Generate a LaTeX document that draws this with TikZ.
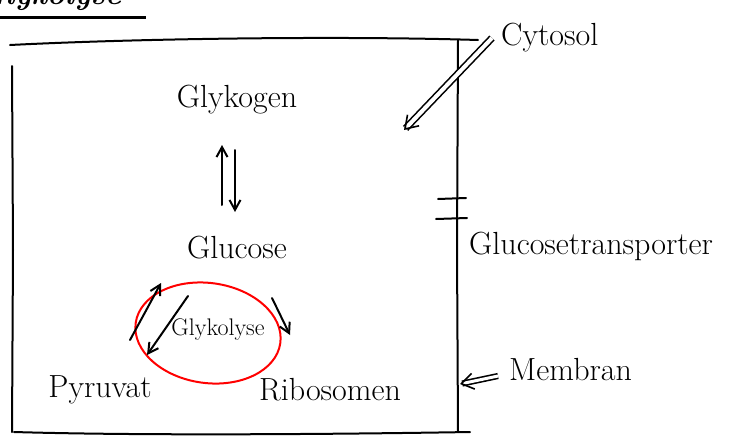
\documentclass[tikz,border=0pt]{standalone}
\usetikzlibrary{arrows.meta}
\begin{document}
\begin{tikzpicture}[x=1pt,y=-1pt,
  hand/.style={line width=2pt,line cap=round,line join=round,black},
  lbl/.style={font=\fontsize{32}{36}\selectfont,inner sep=1pt},
  arr/.style={hand,-{Straight Barb[length=10pt,width=11pt]}},
  dbl/.style={double distance=4pt,line width=1.6pt,-{Straight Barb[length=12pt,width=16pt]}}]
\useasboundingbox (0,0) rectangle (749,442);
% cut-off heading
\begin{scope}
\clip (0,0) rectangle (200,15);
\node[font=\fontsize{30}{34}\selectfont\bfseries\itshape,anchor=base west] (head) at (-25,4) {Glykolyse};
\end{scope}
\draw[line width=3pt] (0,17) -- (146,17);
% cell box
\draw[hand] (10,45) .. controls (150,38) and (350,36) .. (478,40);
\draw[hand] (12,66) -- (13,250) -- (12,432);
\draw[hand] (458,40) -- (457,250) -- (458,432);
\draw[hand] (14,432) .. controls (150,436) and (350,434) .. (470,432);
% transporter marks
\draw[hand] (438,199) -- (466,198);
\draw[hand] (436,219) -- (467,218);
% nodes
\node[lbl] (glykogen) at (237,100) {Glykogen};
\node[lbl] (glucose) at (237,248) {Glucose};
\node[lbl,font=\fontsize{24}{28}\selectfont] (glykolyse) at (218,330) {Glykolyse};
\node[lbl] (pyruvat) at (100,390) {Pyruvat};
\node[lbl] (ribosomen) at (330,390) {Ribosomen};
\node[lbl,anchor=west] (cytosol) at (500,38) {Cytosol};
\node[lbl,anchor=west] (transp) at (468,246) {Glucosetransporter};
\node[lbl,anchor=west] (membran) at (508,370) {Membran};
% red circle
\draw[red,line width=2pt,rotate around={-8:(208,333)}] (208,333) ellipse [x radius=73, y radius=50];
% arrows
\coordinate (up1) at (222,205);
\coordinate (up2) at (222,145);
\coordinate (dn1) at (235,150);
\coordinate (dn2) at (235,212);
\draw[arr] (up1) -- (up2);
\draw[arr] (dn1) -- (dn2);
\draw[arr] (130,340) -- (161,283);
\draw[arr] (188,296) -- (147,355);
\draw[arr] (272,298) -- (290,335);
\coordinate (cyt) at (404,130);
\draw[dbl] (cytosol.west) ++(-8,0) -- (cyt);
\coordinate (mem) at (460,384);
\draw[dbl,double distance=3pt] (membran.west) ++(-10,6) -- (mem);
\end{tikzpicture}
\end{document}
